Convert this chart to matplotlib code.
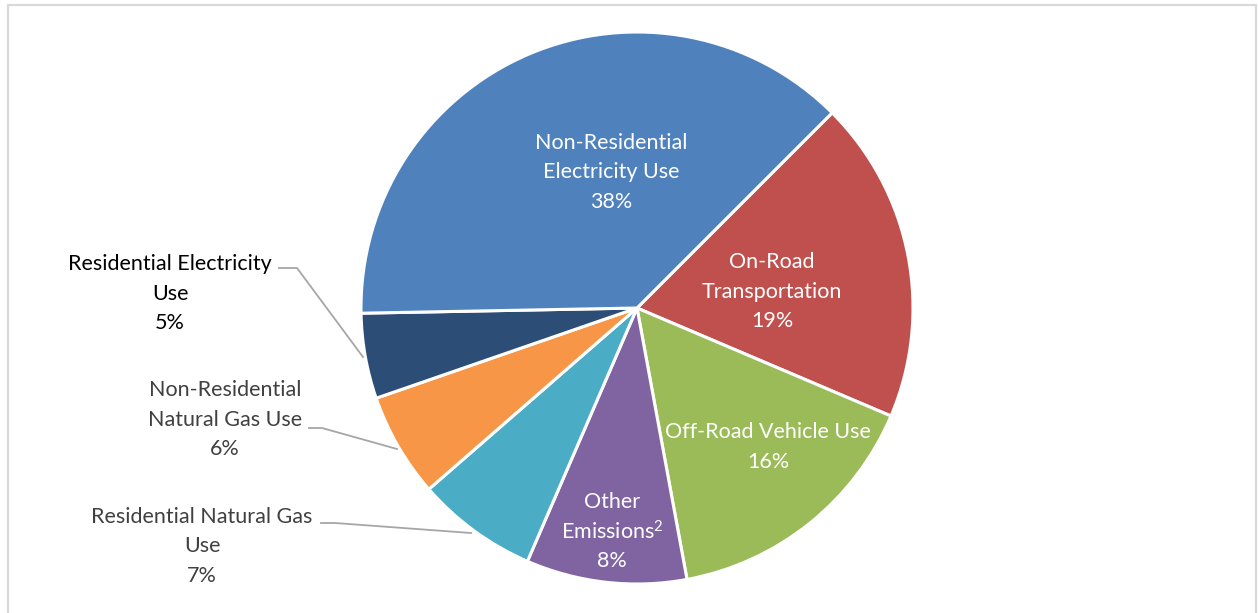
import matplotlib.pyplot as plt
from matplotlib.patches import Rectangle

# slice data (clockwise from the 45 degree mark)
categories = ["On-Road Transportation", "Off-Road Vehicle Use", "Other Emissions",
              "Residential Natural Gas Use", "Non-Residential Natural Gas Use",
              "Residential Electricity Use", "Non-Residential Electricity Use"]
shares = [18.9, 15.7, 9.4, 7.1, 6.1, 5.0, 37.8]
pct_labels = ["19%", "16%", "8%", "7%", "6%", "5%", "38%"]
colors = ["#C0504D", "#9BBB59", "#8064A2", "#4BACC6", "#F79646", "#2C4D75", "#4F81BD"]

W, H = 1258, 613

plt.rcParams["mathtext.fontset"] = "custom"
plt.rcParams["mathtext.rm"] = "Lato"
plt.rcParams["mathtext.it"] = "Lato"
plt.rcParams["mathtext.default"] = "rm"


def py(y):
    # pixel row from top -> data y
    return H - y


fig = plt.figure(figsize=(W / 100, H / 100), dpi=100)
ax = fig.add_axes([0, 0, 1, 1])
ax.pie(shares, colors=colors, startangle=45, counterclock=False,
       center=(637, py(308)), radius=276,
       wedgeprops=dict(edgecolor="white", linewidth=2.2))
ax.set_xlim(0, W)
ax.set_ylim(0, H)
ax.set_aspect("equal")
ax.axis("off")

# chart border
ax.add_patch(Rectangle((7.5, -10), 1248, py(4.5) + 10, fill=False,
                       edgecolor="#D9D9D9", linewidth=1.6))

font = "Lato"
fs = 15.5


def label(x, y0, lines, color):
    for k, s in enumerate(lines):
        ax.text(x, py(y0 + k * 29.5), s, ha="center", va="center",
                fontsize=fs, color=color, family=font)


# inside labels
label(611, 143, ["Non-Residential", "Electricity Use", pct_labels[6]], "white")
label(772, 262, ["On-Road", "Transportation", pct_labels[0]], "white")
label(768, 432, ["Off-Road Vehicle Use", pct_labels[1]], "white")
label(612, 502, ["Other", "Emissions$^2$", pct_labels[2]], "white")

# outside labels
label(170, 264, ["Residential Electricity", "Use", pct_labels[5]], "black")
label(225, 390, ["Non-Residential", "Natural Gas Use", pct_labels[4]], "#404040")
label(202, 517, ["Residential Natural Gas", "Use", pct_labels[3]], "#404040")

# leader lines
leaders = [
    ([279, 297, 363], [268, 268, 357]),
    ([309, 322, 397], [428, 428, 449]),
    ([321, 335, 471], [523, 523, 533]),
]
for xs, ys in leaders:
    ax.plot(xs, [py(v) for v in ys], color="#A6A6A6", linewidth=1.3)

fig.savefig("out.png", dpi=100)
